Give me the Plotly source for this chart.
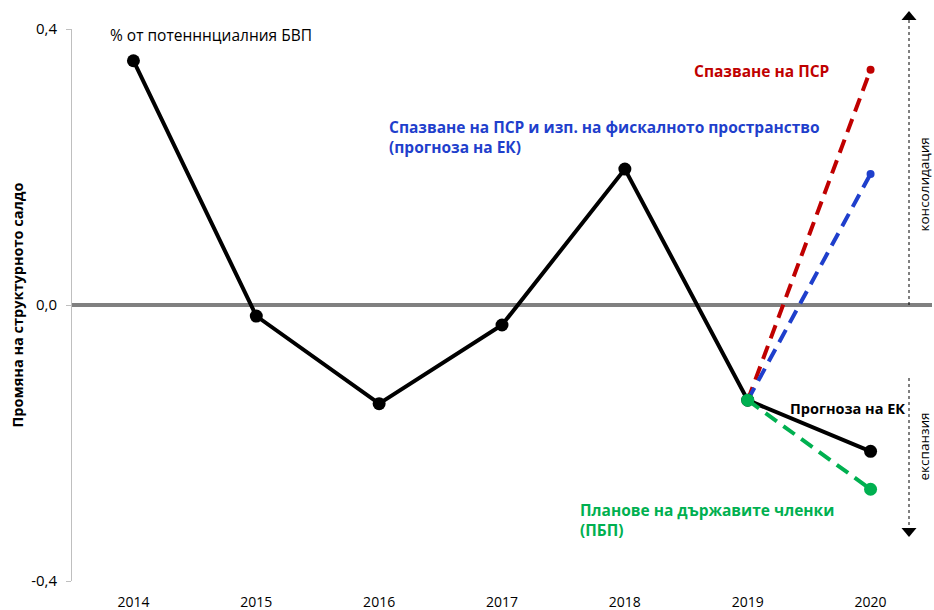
import plotly.graph_objects as go

years = [2014, 2015, 2016, 2017, 2018, 2019, 2020]
ec_forecast = [0.354, -0.016, -0.143, -0.029, 0.197, -0.138, -0.212]
scp_years = [2019, 2020]
scp_compliance = [-0.138, 0.341]
scp_fiscal_space = [-0.138, 0.190]
dbp_plans = [-0.138, -0.267]

ytick_vals = [-0.4, 0.0, 0.4]
ytick_text = ["-0,4", "0,0", "0,4"]

FONT = "Open Sans"
RED = "#C00000"
BLUE = "#1F3FCC"
GREEN = "#00B050"
DASH = "14px,8px"

fig = go.Figure()

fig.add_trace(go.Scatter(x=scp_years, y=scp_compliance, mode="lines+markers",
                         line=dict(color=RED, width=4, dash=DASH),
                         marker=dict(size=8, color=RED), showlegend=False))
fig.add_trace(go.Scatter(x=scp_years, y=scp_fiscal_space, mode="lines+markers",
                         line=dict(color=BLUE, width=4, dash=DASH),
                         marker=dict(size=8, color=BLUE), showlegend=False))
fig.add_trace(go.Scatter(x=years, y=ec_forecast, mode="lines+markers",
                         line=dict(color="black", width=4),
                         marker=dict(size=13, color="black"), showlegend=False))
fig.add_trace(go.Scatter(x=scp_years, y=dbp_plans, mode="lines+markers",
                         line=dict(color=GREEN, width=4, dash=DASH),
                         marker=dict(size=13, color=GREEN), showlegend=False))

# pixel -> paper helpers (plot area spans x 72..932, y 29..581)
def px_x(px):
    return (px - 72) / 860

def px_y(py):
    return (581 - py) / 552

shapes = [
    dict(type="line", xref="paper", yref="y", x0=0, x1=1, y0=0, y1=0,
         line=dict(color="#808080", width=4), layer="below"),
    dict(type="line", xref="paper", yref="paper", x0=px_x(909), x1=px_x(909),
         y0=px_y(305), y1=px_y(19), line=dict(color="black", width=1, dash="dot")),
    dict(type="path", xref="paper", yref="paper",
         path=f"M {px_x(901.5)} {px_y(20)} L {px_x(916.5)} {px_y(20)} L {px_x(909)} {px_y(11)} Z",
         fillcolor="black", line=dict(color="black", width=0)),
    dict(type="line", xref="paper", yref="paper", x0=px_x(909), x1=px_x(909),
         y0=px_y(378), y1=px_y(529), line=dict(color="black", width=1, dash="dot")),
    dict(type="path", xref="paper", yref="paper",
         path=f"M {px_x(901.5)} {px_y(528)} L {px_x(916.5)} {px_y(528)} L {px_x(909)} {px_y(537)} Z",
         fillcolor="black", line=dict(color="black", width=0)),
]

S = 15.5
annotations = [
    dict(text="% от потенннциалния БВП", x=px_x(108), y=px_y(35), xref="paper", yref="paper",
         xanchor="left", yanchor="middle", showarrow=False,
         font=dict(family=FONT, size=S, color="black")),
    dict(text="<b>Спазване на ПСР</b>", x=px_x(692), y=px_y(71), xref="paper", yref="paper",
         xanchor="left", yanchor="middle", showarrow=False,
         font=dict(family=FONT, size=S, color=RED)),
    dict(text="<b>Спазване на ПСР и изп. на фискалното пространство<br>(прогноза на ЕК)</b>",
         x=px_x(387), y=px_y(137), xref="paper", yref="paper", align="left",
         xanchor="left", yanchor="middle", showarrow=False,
         font=dict(family=FONT, size=S, color=BLUE)),
    dict(text="<b>Прогноза на ЕК</b>", x=px_x(788), y=px_y(408), xref="paper", yref="paper",
         xanchor="left", yanchor="middle", showarrow=False,
         font=dict(family=FONT, size=14.5, color="black")),
    dict(text="<b>Планове на държавите членки<br>(ПБП)</b>", x=px_x(578), y=px_y(520),
         xref="paper", yref="paper", align="left",
         xanchor="left", yanchor="middle", showarrow=False,
         font=dict(family=FONT, size=S, color=GREEN)),
    dict(text="консолидация", x=px_x(923.5), y=px_y(185), xref="paper", yref="paper",
         textangle=-90, xanchor="center", yanchor="middle", showarrow=False,
         font=dict(family=FONT, size=13.5, color="black")),
    dict(text="експанзия", x=px_x(923.5), y=px_y(447), xref="paper", yref="paper",
         textangle=-90, xanchor="center", yanchor="middle", showarrow=False,
         font=dict(family=FONT, size=13.5, color="black")),
]

fig.update_layout(
    width=934, height=610,
    margin=dict(l=72, r=2, t=29, b=29),
    paper_bgcolor="white", plot_bgcolor="white",
    font=dict(family=FONT, size=14, color="black"),
    shapes=shapes, annotations=annotations,
    xaxis=dict(range=[2013.5, 2020.5], tickvals=years, ticktext=[str(y) for y in years],
               showgrid=False, zeroline=False, showline=False, automargin=False,
               ticks="", ticklabelstandoff=11,
               tickfont=dict(family=FONT, size=14)),
    yaxis=dict(range=[-0.4, 0.4], tickvals=ytick_vals, ticktext=ytick_text,
               showgrid=False, zeroline=False, showline=True, linecolor="#BFBFBF",
               linewidth=1, ticks="outside", ticklen=5, tickcolor="#BFBFBF",
               ticklabelstandoff=6, automargin=False,
               tickfont=dict(family=FONT, size=15),
               title=dict(text="<b>Промяна на структурното салдо</b>",
                          font=dict(family=FONT, size=14.5), standoff=4)),
)

fig.write_html("out.html", config={"displayModeBar": False},
               post_script="document.body.style.margin='0';document.body.style.overflow='hidden';")
